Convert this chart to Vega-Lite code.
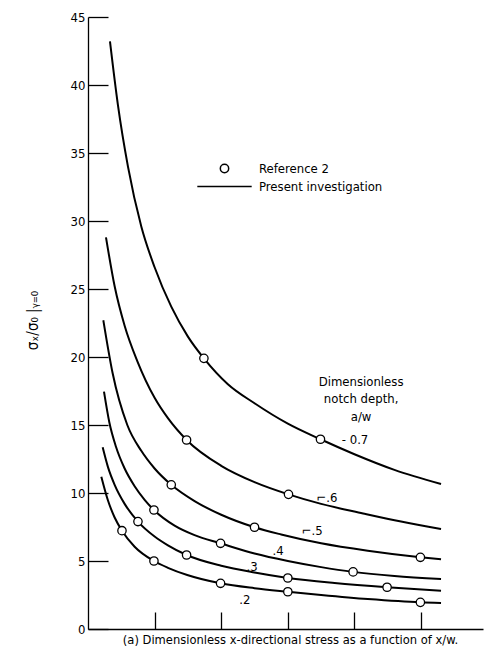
{
  "$schema": "https://vega.github.io/schema/vega-lite/v6.json",
  "width": 395,
  "height": 612,
  "autosize": {"type": "none"},
  "padding": {"left": 88, "top": 17, "right": 3, "bottom": 32},
  "background": "white",
  "config": {
    "font": "Liberation Sans Narrow, DejaVu Sans Condensed, Open Sans, sans-serif",
    "view": {"stroke": null},
    "axis": {"grid": false, "domainColor": "black", "domainWidth": 1.3, "tickColor": "black", "tickWidth": 1.3, "labelColor": "black", "titleColor": "black", "labelFont": "Liberation Sans Narrow, DejaVu Sans Condensed, sans-serif", "titleFont": "Liberation Sans Narrow, DejaVu Sans Condensed, sans-serif", "titleFontWeight": "normal"}
  },
  "datasets": {
    "curves": [
      {"aw": "0.7", "u": 0.33, "v": 43.2}, {"aw": "0.7", "u": 0.45, "v": 38.5}, {"aw": "0.7", "u": 0.6, "v": 34.0}, {"aw": "0.7", "u": 0.8, "v": 29.6}, {"aw": "0.7", "u": 1.0, "v": 26.6}, {"aw": "0.7", "u": 1.25, "v": 23.7}, {"aw": "0.7", "u": 1.5, "v": 21.5}, {"aw": "0.7", "u": 1.74, "v": 19.9}, {"aw": "0.7", "u": 2.1, "v": 18.0}, {"aw": "0.7", "u": 2.5, "v": 16.6}, {"aw": "0.7", "u": 3.0, "v": 15.1}, {"aw": "0.7", "u": 3.49, "v": 13.95}, {"aw": "0.7", "u": 4.0, "v": 12.85}, {"aw": "0.7", "u": 4.6, "v": 11.7}, {"aw": "0.7", "u": 5.3, "v": 10.66},
      {"aw": "0.6", "u": 0.27, "v": 28.8}, {"aw": "0.6", "u": 0.4, "v": 25.2}, {"aw": "0.6", "u": 0.55, "v": 22.3}, {"aw": "0.6", "u": 0.74, "v": 19.7}, {"aw": "0.6", "u": 1.0, "v": 17.0}, {"aw": "0.6", "u": 1.2, "v": 15.5}, {"aw": "0.6", "u": 1.48, "v": 13.9}, {"aw": "0.6", "u": 2.0, "v": 12.0}, {"aw": "0.6", "u": 2.5, "v": 10.8}, {"aw": "0.6", "u": 3.01, "v": 9.9}, {"aw": "0.6", "u": 3.5, "v": 9.2}, {"aw": "0.6", "u": 4.13, "v": 8.5}, {"aw": "0.6", "u": 4.7, "v": 7.9}, {"aw": "0.6", "u": 5.3, "v": 7.35},
      {"aw": "0.5", "u": 0.23, "v": 22.7}, {"aw": "0.5", "u": 0.37, "v": 18.8}, {"aw": "0.5", "u": 0.59, "v": 15.0}, {"aw": "0.5", "u": 0.8, "v": 13.1}, {"aw": "0.5", "u": 1.0, "v": 11.8}, {"aw": "0.5", "u": 1.25, "v": 10.6}, {"aw": "0.5", "u": 1.6, "v": 9.4}, {"aw": "0.5", "u": 2.0, "v": 8.4}, {"aw": "0.5", "u": 2.5, "v": 7.48}, {"aw": "0.5", "u": 2.9, "v": 6.95}, {"aw": "0.5", "u": 3.5, "v": 6.3}, {"aw": "0.5", "u": 4.2, "v": 5.75}, {"aw": "0.5", "u": 4.99, "v": 5.27}, {"aw": "0.5", "u": 5.3, "v": 5.12},
      {"aw": "0.4", "u": 0.24, "v": 17.45}, {"aw": "0.4", "u": 0.32, "v": 15.2}, {"aw": "0.4", "u": 0.42, "v": 13.4}, {"aw": "0.4", "u": 0.55, "v": 11.8}, {"aw": "0.4", "u": 0.7, "v": 10.5}, {"aw": "0.4", "u": 0.85, "v": 9.5}, {"aw": "0.4", "u": 0.99, "v": 8.75}, {"aw": "0.4", "u": 1.3, "v": 7.6}, {"aw": "0.4", "u": 1.6, "v": 6.9}, {"aw": "0.4", "u": 1.99, "v": 6.3}, {"aw": "0.4", "u": 2.5, "v": 5.55}, {"aw": "0.4", "u": 3.0, "v": 5.0}, {"aw": "0.4", "u": 3.5, "v": 4.55}, {"aw": "0.4", "u": 3.98, "v": 4.2}, {"aw": "0.4", "u": 4.6, "v": 3.9}, {"aw": "0.4", "u": 5.3, "v": 3.68},
      {"aw": "0.3", "u": 0.22, "v": 13.36}, {"aw": "0.3", "u": 0.3, "v": 11.9}, {"aw": "0.3", "u": 0.4, "v": 10.6}, {"aw": "0.3", "u": 0.55, "v": 9.2}, {"aw": "0.3", "u": 0.75, "v": 7.9}, {"aw": "0.3", "u": 1.0, "v": 6.8}, {"aw": "0.3", "u": 1.2, "v": 6.15}, {"aw": "0.3", "u": 1.48, "v": 5.44}, {"aw": "0.3", "u": 2.0, "v": 4.65}, {"aw": "0.3", "u": 2.5, "v": 4.15}, {"aw": "0.3", "u": 3.0, "v": 3.75}, {"aw": "0.3", "u": 3.7, "v": 3.38}, {"aw": "0.3", "u": 4.49, "v": 3.07}, {"aw": "0.3", "u": 5.3, "v": 2.82},
      {"aw": "0.2", "u": 0.2, "v": 11.2}, {"aw": "0.2", "u": 0.3, "v": 9.45}, {"aw": "0.2", "u": 0.4, "v": 8.2}, {"aw": "0.2", "u": 0.51, "v": 7.23}, {"aw": "0.2", "u": 0.7, "v": 6.05}, {"aw": "0.2", "u": 0.99, "v": 5.0}, {"aw": "0.2", "u": 1.2, "v": 4.5}, {"aw": "0.2", "u": 1.49, "v": 3.97}, {"aw": "0.2", "u": 1.99, "v": 3.36}, {"aw": "0.2", "u": 2.5, "v": 3.0}, {"aw": "0.2", "u": 3.0, "v": 2.74}, {"aw": "0.2", "u": 3.5, "v": 2.5}, {"aw": "0.2", "u": 4.2, "v": 2.2}, {"aw": "0.2", "u": 4.99, "v": 1.96}, {"aw": "0.2", "u": 5.3, "v": 1.92}
    ],
    "ref": [
      {"aw": "0.7", "u": 1.74, "v": 19.9, "src": "Reference 2"}, {"aw": "0.7", "u": 3.49, "v": 13.95, "src": "Reference 2"},
      {"aw": "0.6", "u": 1.48, "v": 13.9, "src": "Reference 2"}, {"aw": "0.6", "u": 3.01, "v": 9.9, "src": "Reference 2"},
      {"aw": "0.5", "u": 1.25, "v": 10.6, "src": "Reference 2"}, {"aw": "0.5", "u": 2.5, "v": 7.48, "src": "Reference 2"}, {"aw": "0.5", "u": 4.99, "v": 5.27, "src": "Reference 2"},
      {"aw": "0.4", "u": 0.99, "v": 8.75, "src": "Reference 2"}, {"aw": "0.4", "u": 1.99, "v": 6.3, "src": "Reference 2"}, {"aw": "0.4", "u": 3.98, "v": 4.2, "src": "Reference 2"},
      {"aw": "0.3", "u": 0.75, "v": 7.9, "src": "Reference 2"}, {"aw": "0.3", "u": 1.48, "v": 5.44, "src": "Reference 2"}, {"aw": "0.3", "u": 3.0, "v": 3.75, "src": "Reference 2"}, {"aw": "0.3", "u": 4.49, "v": 3.07, "src": "Reference 2"},
      {"aw": "0.2", "u": 0.51, "v": 7.23, "src": "Reference 2"}, {"aw": "0.2", "u": 0.99, "v": 5.0, "src": "Reference 2"}, {"aw": "0.2", "u": 1.99, "v": 3.36, "src": "Reference 2"}, {"aw": "0.2", "u": 3.0, "v": 2.74, "src": "Reference 2"}, {"aw": "0.2", "u": 4.99, "v": 1.96, "src": "Reference 2"}
    ],
    "labels": [
      {"t": "- 0.7", "u": 3.81, "v": 13.9},
      {"t": "⌐.6", "u": 3.43, "v": 9.61},
      {"t": "⌐.5", "u": 3.21, "v": 7.23},
      {"t": ".4", "u": 2.77, "v": 5.76},
      {"t": ".3", "u": 2.38, "v": 4.58},
      {"t": ".2", "u": 2.27, "v": 2.13}
    ],
    "note": [
      {"t": "Dimensionless\nnotch depth,\na/w", "u": 4.1, "v": 18.18}
    ]
  },
  "encoding": {
    "x": {"field": "u", "type": "quantitative", "scale": {"domain": [0, 5.93], "nice": false},
      "axis": {"values": [1, 2, 3, 4, 5], "labels": false, "tickSize": -17, "title": "(a) Dimensionless x-directional stress as a function of  x/w.", "titleFontSize": 12.8, "titlePadding": 4, "titleX": 202, "titleAlign": "center"}},
    "y": {"field": "v", "type": "quantitative", "scale": {"domain": [0, 45], "nice": false},
      "axis": {"values": [0, 5, 10, 15, 20, 25, 30, 35, 40, 45], "tickSize": -20, "labelFontSize": 13, "labelPadding": 23, "title": "σₓ/σ₀ |ᵧ₌₀", "titleFontSize": 15, "titleX": -56, "titleY": 303, "titleAngle": -90, "titleAlign": "center", "titleBaseline": "middle"}}
  },
  "layer": [
    {
      "data": {"name": "curves"},
      "mark": {"type": "line", "interpolate": "monotone", "stroke": "black", "strokeWidth": 2},
      "encoding": {"detail": {"field": "aw", "type": "nominal"}}
    },
    {
      "data": {"name": "ref"},
      "mark": {"type": "point", "filled": true, "fill": "white", "stroke": "black", "strokeWidth": 1.3, "size": 70, "opacity": 1},
      "encoding": {
        "shape": {"field": "src", "type": "nominal",
          "scale": {"domain": ["Reference 2", "Present investigation"], "range": ["M-1,0A1,1,0,1,1,1,0A1,1,0,1,1,-1,0Z", "M-6.5,0L6.5,0"]},
          "legend": {"orient": "none", "legendX": 130, "legendY": 145, "title": null, "symbolSize": 70, "labelFontSize": 13, "labelColor": "black", "labelOffset": 28, "rowPadding": 4,
            "encode": {"symbols": {"update": {"stroke": {"value": "black"}, "fill": {"value": "white"}, "opacity": {"value": 1}, "strokeWidth": {"signal": "datum.value === 'Reference 2' ? 1 : 1.8"}}}}}
        }
      }
    },
    {
      "data": {"name": "labels"},
      "mark": {"type": "text", "align": "left", "baseline": "middle", "fontSize": 13, "color": "black"},
      "encoding": {"text": {"field": "t"}}
    },
    {
      "data": {"name": "note"},
      "mark": {"type": "text", "align": "center", "baseline": "middle", "fontSize": 13, "lineBreak": "\n", "lineHeight": 17.5, "color": "black"},
      "encoding": {"text": {"field": "t"}}
    }
  ]
}
